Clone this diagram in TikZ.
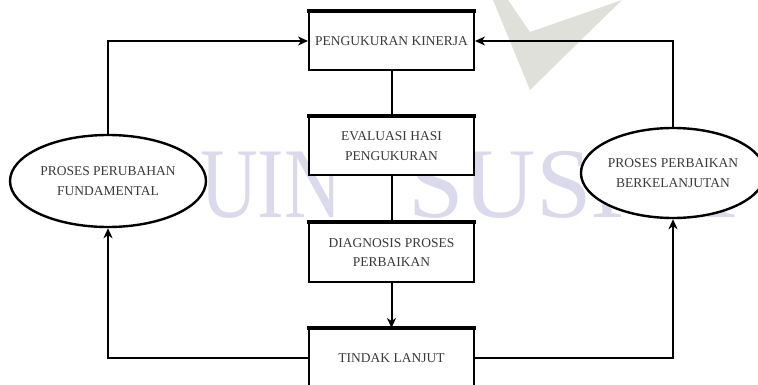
\documentclass[tikz,border=0pt]{standalone}
\usepackage{fontspec}
\setmainfont{Liberation Serif}
\usetikzlibrary{arrows.meta,shapes.geometric}
\definecolor{wmark}{HTML}{DADAEC}
\definecolor{logo}{HTML}{DFE0DA}
\definecolor{txt}{HTML}{3A3A3A}
\begin{document}
\begin{tikzpicture}[x=1pt,y=-1pt,
  stepbox/.style={draw=black,line width=2pt,fill=white,minimum width=165pt,minimum height=58pt,inner sep=0pt,
    align=center,text=txt,font=\fontsize{13.5}{19.5}\selectfont},
  procell/.style={ellipse,draw=black,line width=2.4pt,fill=white,inner sep=0pt,
    align=center,text=txt,font=\fontsize{13.5}{19.5}\selectfont},
  wm/.style={anchor=base west,inner sep=0pt,text=wmark,font=\fontsize{100}{100}\selectfont},
  conn/.style={line width=2pt,draw=black},
  arr/.style={conn,-{Stealth[length=10pt,width=9pt,inset=3pt]}}]
\useasboundingbox (0,0) rectangle (758,385);
% watermark
\fill[logo] (493,0) -- (508,0) -- (530,32) -- (622,0) -- (530,90) -- cycle;
\node[wm,xscale=0.8] (wm1) at (200,217) {UIN};
\node[wm] (wm2) at (408,217) {SUSKA};
% nodes
\node[stepbox] (kin) at (391.5,41) {PENGUKURAN KINERJA};
\node[stepbox] (eval) at (391.5,146) {EVALUASI HASI\\PENGUKURAN};
\node[stepbox,minimum height=59pt] (diag) at (391.5,252.5) {DIAGNOSIS PROSES\\PERBAIKAN};
\node[stepbox] (tl) at (391.5,358) {TINDAK LANJUT};
\node[procell,minimum width=196pt,minimum height=92pt] (pf) at (108,181) {PROSES PERUBAHAN\\FUNDAMENTAL};
\node[procell,minimum width=176pt,minimum height=90pt] (pb) at (673,173) {PROSES PERBAIKAN\\BERKELANJUTAN};
% thicker top edges
\foreach \b in {kin,eval,diag,tl}{\draw[line width=3.2pt] ([xshift=-1pt]\b.north west) -- ([xshift=1pt]\b.north east);}
\coordinate (lt) at (108,41);
\coordinate (rt) at (673,41);
\coordinate (lb) at (108,358);
\coordinate (rb) at (673,358);
% connectors
\draw[conn] (kin.south) -- (eval.north);
\draw[conn] (eval.south) -- (diag.north);
\draw[arr] (diag.south) -- (tl.north);
\draw[arr] (tl.west) -- (lb) -- (pf.south);
\draw[arr] (tl.east) -- (rb) -- (pb.south);
\draw[arr] (pf.north) -- (lt) -- (kin.west);
\draw[arr] (pb.north) -- (rt) -- (kin.east);
\end{tikzpicture}
\end{document}
